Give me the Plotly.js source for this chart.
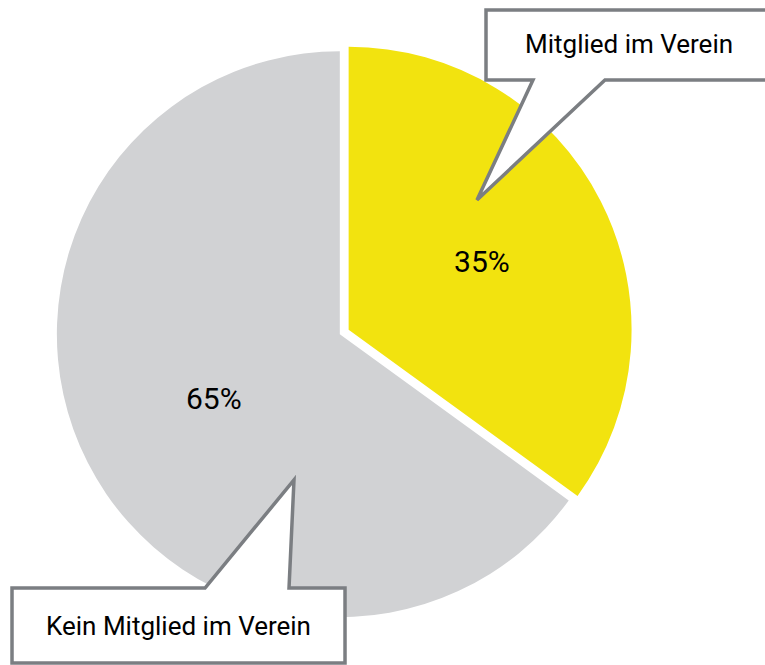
<!DOCTYPE html>
<html>
<head>
<meta charset="utf-8">
<script src="https://cdn.plot.ly/plotly-3.0.1.min.js"></script>
<style>html,body{margin:0;padding:0;background:#fff;}#chart{width:765px;height:665px;}</style>
</head>
<body>
<div id="chart"></div>
<script>
var labels = ["Mitglied im Verein", "Kein Mitglied im Verein"];
var values = [35, 65];
var colors = ["#F2E30F", "#D1D2D4"];
var pulls = [0.035, 0];

var W = 765, H = 665;
function px(x){ return x / W; }
function py(y){ return 1 - y / H; }
function path(pts){
  return pts.map(function(p, i){ return (i ? "L" : "M") + px(p[0]).toFixed(4) + "," + py(p[1]).toFixed(4); }).join(" ") + " Z";
}

var box1 = [[486,10],[780,10],[780,80],[605,80],[477,200],[533,80],[486,80]];
var box2 = [[12,588],[205,588],[294,480],[289,588],[345,588],[345,663],[12,663]];

var lineStyle = {color: "#7B7E82", width: 3.5};

var data = [{
  type: "pie",
  labels: labels,
  values: values,
  marker: {colors: colors, line: {color: "#ffffff", width: 0}},
  pull: pulls,
  sort: false,
  direction: "clockwise",
  rotation: 0,
  textinfo: "percent",
  textposition: "inside",
  insidetextorientation: "horizontal",
  textfont: {family: "Roboto, sans-serif", size: 30, color: "#000000"},
  hoverinfo: "none",
  showlegend: false,
  domain: {x: [0.0614, 0.827], y: [0.057, 0.938]}
}];

var layout = {
  width: W, height: H,
  margin: {l: 0, r: 0, t: 0, b: 0},
  paper_bgcolor: "#ffffff",
  showlegend: false,
  shapes: [
    {type: "path", xref: "paper", yref: "paper", path: path(box1), fillcolor: "#ffffff", line: lineStyle, layer: "above"},
    {type: "path", xref: "paper", yref: "paper", path: path(box2), fillcolor: "#ffffff", line: lineStyle, layer: "above"}
  ],
  annotations: [
    {xref: "paper", yref: "paper", x: px(629), y: py(44), text: labels[0], showarrow: false, xanchor: "center", yanchor: "middle", font: {family: "Roboto, sans-serif", size: 26, color: "#000000"}},
    {xref: "paper", yref: "paper", x: px(178), y: py(626), text: labels[1], showarrow: false, xanchor: "center", yanchor: "middle", font: {family: "Roboto, sans-serif", size: 26, color: "#000000"}}
  ]
};

Plotly.newPlot("chart", data, layout, {displayModeBar: false, staticPlot: true});
</script>
</body>
</html>
